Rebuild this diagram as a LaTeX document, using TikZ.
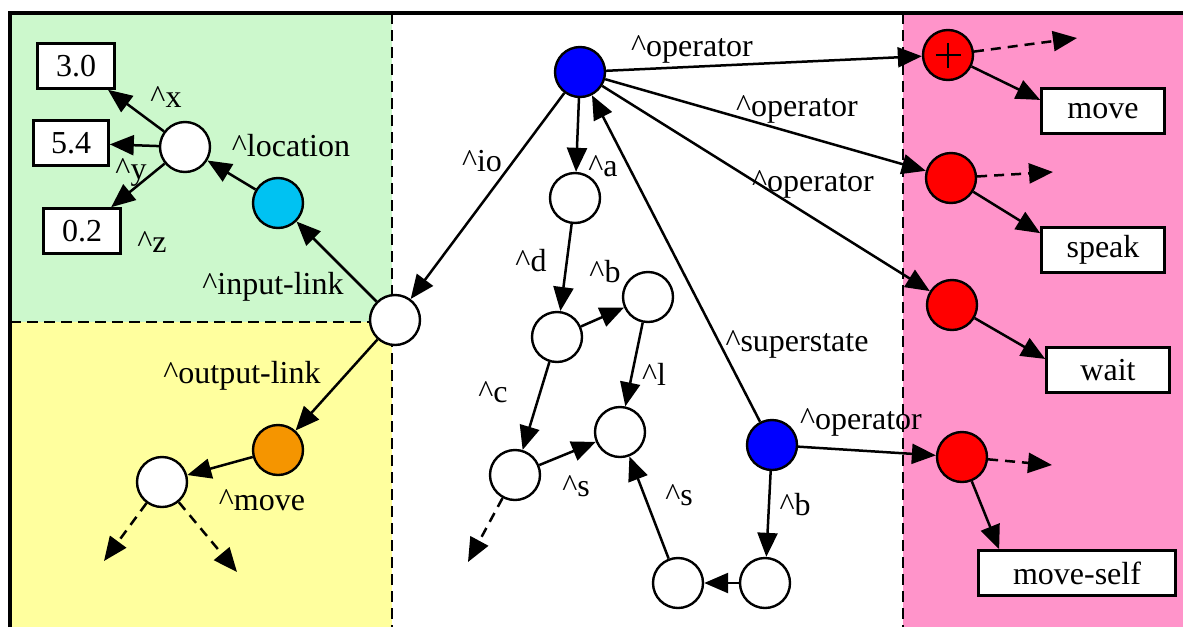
\documentclass[tikz,border=0pt]{standalone}
\usepackage{fontspec}
\setmainfont{Liberation Serif}
\newfontfamily\diagramfont{Liberation Serif}
\usetikzlibrary{arrows.meta}

\definecolor{inputzone}{HTML}{CCF8CC}
\definecolor{outputzone}{HTML}{FFFF9E}
\definecolor{opzone}{HTML}{FF94CA}
\definecolor{wmecyan}{HTML}{00C2F2}
\definecolor{wmeorange}{HTML}{F59500}

\newcommand{\attr}[1]{\textasciicircum#1}

\tikzset{
  wme/.style={circle, draw, line width=2.4pt, minimum size=50pt, inner sep=0pt, fill=white},
  valbox/.style={draw, rectangle, fill=white, line width=2.6pt, minimum height=45pt, inner sep=0pt,
                 font=\diagramfont\fontsize{32}{34}\selectfont},
  lbl/.style={inner sep=0pt, font=\diagramfont\fontsize{32}{34}\selectfont},
  link/.style={line width=2.5pt, -{Triangle[length=24pt,width=20pt]}},
  openlink/.style={line width=2.5pt, dash pattern=on 10pt off 7pt, -{Triangle[length=24pt,width=20pt]}},
  zoneline/.style={line width=2.8pt, dash pattern=on 11pt off 6pt}
}

\begin{document}
\begin{tikzpicture}[x=1pt, y=-1pt]
\useasboundingbox (0,0) rectangle (1183,627);

% coloured zones
\fill[inputzone]  (10,13) rectangle (392,322);
\fill[outputzone] (10,322) rectangle (392,627);
\fill[opzone]     (903,13) rectangle (1183,627);
\draw[zoneline] (392,13) -- (392,627);
\draw[zoneline] (10,322) -- (392,322);
\draw[zoneline] (903,13) -- (903,627);
\draw[line width=3.6pt] (10,627) -- (10,13) -- (1183,13);

% input-link structure
\node[valbox, minimum width=77pt] (x30) at (76,66) {3.0};
\node[valbox, minimum width=75pt] (y54) at (71,143) {5.4};
\node[valbox, minimum width=77pt] (z02) at (82,231) {0.2};
\node[wme] (loc) at (185,147) {};
\node[wme, fill=wmecyan] (inp) at (278,203) {};
\node[wme] (io) at (395,320) {};

% output-link structure
\node[wme, fill=wmeorange] (out) at (278,450) {};
\node[wme] (mv) at (162,482) {};
\coordinate (mvA) at (104,561);
\coordinate (mvB) at (237,572);

% state
\node[wme, fill=blue] (s1) at (580,72) {};
\node[wme] (na) at (575,198) {};
\node[wme] (nd) at (557,337) {};
\node[wme] (nb) at (648,297) {};
\node[wme] (nc) at (515,475) {};
\node[wme] (nl) at (620,432) {};
\coordinate (ncA) at (468,562);
\node[wme, fill=blue] (s2) at (772,445) {};
\node[wme] (s2b) at (765,583) {};
\node[wme] (s2s) at (678,583) {};

% operators
\node[wme, fill=red] (o1) at (948,55) {};
\draw[line width=2.2pt] ([xshift=-12.5pt]o1.center) -- ([xshift=12.5pt]o1.center)
                        ([yshift=-12.5pt]o1.center) -- ([yshift=12.5pt]o1.center);
\node[wme, fill=red] (o2) at (951,178) {};
\node[wme, fill=red] (o3) at (952,305) {};
\node[wme, fill=red] (o4) at (962,457) {};
\node[valbox, minimum width=123pt] (bmove)  at (1103,111) {move};
\node[valbox, minimum width=123pt] (bspeak) at (1103,250) {speak};
\node[valbox, minimum width=123pt] (bwait)  at (1108,370) {wait};
\node[valbox, minimum width=197pt] (bself)  at (1077,573) {move-self};
\coordinate (o1x) at (1077,38);
\coordinate (o2x) at (1053,172);
\coordinate (o4x) at (1052,465);

% connectors
\draw[link] (loc) -- (x30);
\draw[link] (loc) -- (y54);
\draw[link] (loc) -- (z02);
\draw[link] (inp) -- (loc);
\draw[link] (io) -- (inp);
\draw[link] (io) -- (out);
\draw[link] (out) -- (mv);
\draw[openlink] (mv) -- (mvA);
\draw[openlink] (mv) -- (mvB);
\draw[link] (s1) -- (io);
\draw[link] (s1) -- (na);
\draw[link] (na) -- (nd);
\draw[link] (nd) -- (nb);
\draw[link] (nd) -- (nc);
\draw[link] (nb) -- (nl);
\draw[link] (nc) -- (nl);
\draw[openlink] (nc) -- (ncA);
\draw[link] (s2) -- (s1);
\draw[link] (s2) -- (s2b);
\draw[link] (s2b) -- (s2s);
\draw[link] (s2s) -- (nl);
\draw[link] (s1) -- (o1);
\draw[link] (s1) -- (o2);
\draw[link] (s1) -- (o3);
\draw[link] (s2) -- (o4);
\draw[link] (o1) -- (bmove.170);
\draw[link] (o2) -- (bspeak.165);
\draw[link] (o3) -- (bwait.170);
\draw[link] (o4) -- (bself.163);
\draw[openlink] (o1) -- (o1x);
\draw[openlink] (o2) -- (o2x);
\draw[openlink] (o4) -- (o4x);

% attribute labels
\node[lbl] (lx) at (166,97) {\attr{x}};
\node[lbl] (ly) at (131,172) {\attr{y}};
\node[lbl] (lz) at (152,242) {\attr{z}};
\node[lbl] (lloc) at (291,146) {\attr{location}};
\node[lbl] (linp) at (273,287) {\attr{input-link}};
\node[lbl] (lout) at (242,376) {\attr{output-link}};
\node[lbl] (lmove) at (262,500) {\attr{move}};
\node[lbl] (lio) at (482,161) {\attr{io}};
\node[lbl] (la) at (603,166) {\attr{a}};
\node[lbl] (ld) at (531,261) {\attr{d}};
\node[lbl] (lb) at (605,272) {\attr{b}};
\node[lbl] (lc) at (493,392) {\attr{c}};
\node[lbl] (ll) at (654,374) {\attr{l}};
\node[lbl] (ls1) at (576,486) {\attr{s}};
\node[lbl] (ls2) at (679,495) {\attr{s}};
\node[lbl] (lb2) at (795,505) {\attr{b}};
\node[lbl] (lsup) at (797,344) {\attr{superstate}};
\node[lbl] (lop1) at (692,49) {\attr{operator}};
\node[lbl] (lop2) at (797,109) {\attr{operator}};
\node[lbl] (lop3) at (813,184) {\attr{operator}};
\node[lbl] (lop4) at (861,422) {\attr{operator}};
\end{tikzpicture}
\end{document}
